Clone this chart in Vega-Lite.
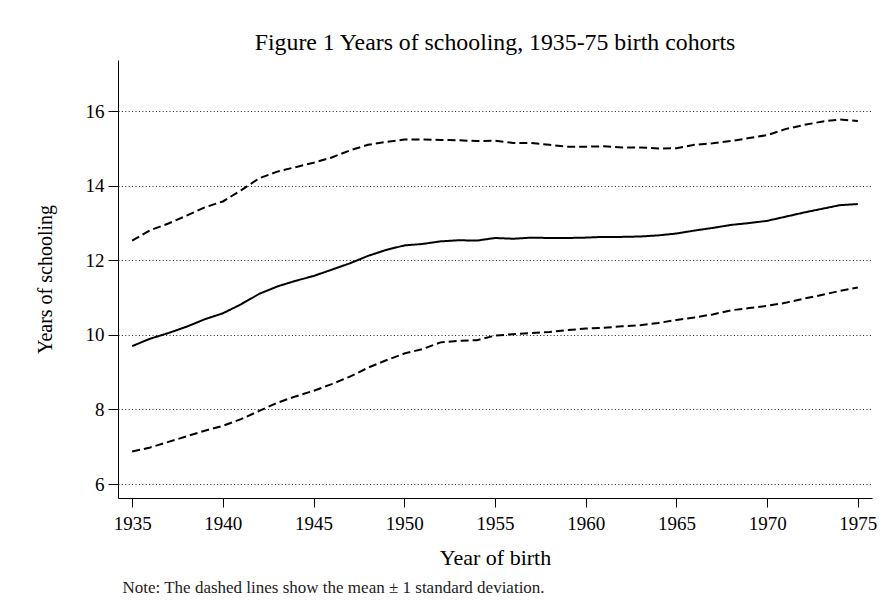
{
 "$schema": "https://vega.github.io/schema/vega-lite/v6.json",
 "width": 754, "height": 438,
 "autosize": {"type": "none"},
 "padding": {"left": 118, "top": 60, "right": 11, "bottom": 118},
 "background": "white",
 "config": {"font": "Liberation Serif", "view": {"stroke": null}},
 "title": {"text": "Figure 1 Years of schooling, 1935-75 birth cohorts", "fontSize": 23.8, "fontWeight": "normal", "color": "#000", "anchor": "middle", "offset": 5, "font": "Liberation Serif"},
 "datasets": {
  "d": [
   {"year":1935,"s":"mean","v":9.70},{"year":1936,"s":"mean","v":9.90},{"year":1937,"s":"mean","v":10.05},{"year":1938,"s":"mean","v":10.22},{"year":1939,"s":"mean","v":10.42},{"year":1940,"s":"mean","v":10.58},{"year":1941,"s":"mean","v":10.82},{"year":1942,"s":"mean","v":11.10},{"year":1943,"s":"mean","v":11.30},{"year":1944,"s":"mean","v":11.45},{"year":1945,"s":"mean","v":11.58},{"year":1946,"s":"mean","v":11.75},{"year":1947,"s":"mean","v":11.92},{"year":1948,"s":"mean","v":12.12},{"year":1949,"s":"mean","v":12.28},{"year":1950,"s":"mean","v":12.40},{"year":1951,"s":"mean","v":12.44},{"year":1952,"s":"mean","v":12.51},{"year":1953,"s":"mean","v":12.54},{"year":1954,"s":"mean","v":12.53},{"year":1955,"s":"mean","v":12.60},{"year":1956,"s":"mean","v":12.58},{"year":1957,"s":"mean","v":12.61},{"year":1958,"s":"mean","v":12.60},{"year":1959,"s":"mean","v":12.60},{"year":1960,"s":"mean","v":12.61},{"year":1961,"s":"mean","v":12.63},{"year":1962,"s":"mean","v":12.63},{"year":1963,"s":"mean","v":12.64},{"year":1964,"s":"mean","v":12.67},{"year":1965,"s":"mean","v":12.72},{"year":1966,"s":"mean","v":12.80},{"year":1967,"s":"mean","v":12.87},{"year":1968,"s":"mean","v":12.95},{"year":1969,"s":"mean","v":13.00},{"year":1970,"s":"mean","v":13.06},{"year":1971,"s":"mean","v":13.17},{"year":1972,"s":"mean","v":13.28},{"year":1973,"s":"mean","v":13.38},{"year":1974,"s":"mean","v":13.48},{"year":1975,"s":"mean","v":13.51},
   {"year":1935,"s":"upper","v":12.53},{"year":1936,"s":"upper","v":12.81},{"year":1937,"s":"upper","v":12.99},{"year":1938,"s":"upper","v":13.20},{"year":1939,"s":"upper","v":13.42},{"year":1940,"s":"upper","v":13.58},{"year":1941,"s":"upper","v":13.88},{"year":1942,"s":"upper","v":14.20},{"year":1943,"s":"upper","v":14.38},{"year":1944,"s":"upper","v":14.50},{"year":1945,"s":"upper","v":14.62},{"year":1946,"s":"upper","v":14.76},{"year":1947,"s":"upper","v":14.95},{"year":1948,"s":"upper","v":15.10},{"year":1949,"s":"upper","v":15.18},{"year":1950,"s":"upper","v":15.24},{"year":1951,"s":"upper","v":15.24},{"year":1952,"s":"upper","v":15.23},{"year":1953,"s":"upper","v":15.22},{"year":1954,"s":"upper","v":15.20},{"year":1955,"s":"upper","v":15.21},{"year":1956,"s":"upper","v":15.15},{"year":1957,"s":"upper","v":15.15},{"year":1958,"s":"upper","v":15.10},{"year":1959,"s":"upper","v":15.05},{"year":1960,"s":"upper","v":15.05},{"year":1961,"s":"upper","v":15.06},{"year":1962,"s":"upper","v":15.03},{"year":1963,"s":"upper","v":15.03},{"year":1964,"s":"upper","v":15.00},{"year":1965,"s":"upper","v":15.01},{"year":1966,"s":"upper","v":15.10},{"year":1967,"s":"upper","v":15.14},{"year":1968,"s":"upper","v":15.20},{"year":1969,"s":"upper","v":15.28},{"year":1970,"s":"upper","v":15.36},{"year":1971,"s":"upper","v":15.52},{"year":1972,"s":"upper","v":15.63},{"year":1973,"s":"upper","v":15.72},{"year":1974,"s":"upper","v":15.78},{"year":1975,"s":"upper","v":15.74},
   {"year":1935,"s":"lower","v":6.87},{"year":1936,"s":"lower","v":6.98},{"year":1937,"s":"lower","v":7.13},{"year":1938,"s":"lower","v":7.28},{"year":1939,"s":"lower","v":7.43},{"year":1940,"s":"lower","v":7.56},{"year":1941,"s":"lower","v":7.74},{"year":1942,"s":"lower","v":7.96},{"year":1943,"s":"lower","v":8.18},{"year":1944,"s":"lower","v":8.35},{"year":1945,"s":"lower","v":8.50},{"year":1946,"s":"lower","v":8.68},{"year":1947,"s":"lower","v":8.88},{"year":1948,"s":"lower","v":9.12},{"year":1949,"s":"lower","v":9.32},{"year":1950,"s":"lower","v":9.50},{"year":1951,"s":"lower","v":9.62},{"year":1952,"s":"lower","v":9.80},{"year":1953,"s":"lower","v":9.84},{"year":1954,"s":"lower","v":9.86},{"year":1955,"s":"lower","v":9.98},{"year":1956,"s":"lower","v":10.02},{"year":1957,"s":"lower","v":10.05},{"year":1958,"s":"lower","v":10.08},{"year":1959,"s":"lower","v":10.13},{"year":1960,"s":"lower","v":10.17},{"year":1961,"s":"lower","v":10.19},{"year":1962,"s":"lower","v":10.23},{"year":1963,"s":"lower","v":10.26},{"year":1964,"s":"lower","v":10.32},{"year":1965,"s":"lower","v":10.40},{"year":1966,"s":"lower","v":10.47},{"year":1967,"s":"lower","v":10.55},{"year":1968,"s":"lower","v":10.66},{"year":1969,"s":"lower","v":10.72},{"year":1970,"s":"lower","v":10.78},{"year":1971,"s":"lower","v":10.86},{"year":1972,"s":"lower","v":10.97},{"year":1973,"s":"lower","v":11.07},{"year":1974,"s":"lower","v":11.18},{"year":1975,"s":"lower","v":11.27}
  ]
 },
 "data": {"name": "d"},
 "layer": [
  {
   "mark": {"type": "line", "strokeWidth": 2, "color": "black"},
   "encoding": {
    "x": {"field": "year", "type": "quantitative",
     "scale": {"domain": [1934.22, 1975.78], "nice": false, "zero": false},
     "axis": {"values": [1935,1940,1945,1950,1955,1960,1965,1970,1975], "format": "d", "title": "Year of birth",
      "domainColor": "black", "tickColor": "black", "tickSize": 9, "labelFontSize": 19, "labelPadding": 7, "labelColor": "black",
      "titleFontSize": 22, "titleFontWeight": "normal", "titleColor": "black", "titlePadding": 14, "grid": false, "labelFlush": false}},
    "y": {"field": "v", "type": "quantitative",
     "scale": {"domain": [5.625, 17.375], "nice": false, "zero": false},
     "axis": {"values": [6,8,10,12,14,16], "title": "Years of schooling", "grid": true, "gridDash": [1, 2.4], "gridColor": "#222", "gridWidth": 1,
      "domainColor": "black", "tickColor": "black", "tickSize": 10, "labelFontSize": 19, "labelPadding": 4, "labelColor": "black",
      "titleFontSize": 20, "titleFontWeight": "normal", "titleColor": "black", "titlePadding": 30}},
    "detail": {"field": "s"},
    "strokeDash": {"field": "s", "type": "nominal", "scale": {"domain": ["mean", "upper", "lower"], "range": [[1, 0], [8, 4], [8, 4]]}, "legend": null}
   }
  },
  {
   "mark": {"type": "line", "opacity": 0},
   "encoding": {
    "x": {"field": "year", "type": "quantitative",
     "scale": {"domain": [1934.22, 1975.78], "nice": false, "zero": false},
     "axis": {"orient": "bottom", "domain": false, "ticks": false, "labels": false, "grid": false,
      "title": "Note: The dashed lines show the mean ± 1 standard deviation.", "titleFontSize": 17, "titleFontWeight": "normal", "titleColor": "#222",
      "titleAnchor": "start", "titleAlign": "left", "titleX": 4, "titleY": 94, "titleBaseline": "alphabetic"}},
    "y": {"field": "v", "type": "quantitative"},
    "detail": {"field": "s"}
   }
  }
 ],
 "resolve": {"scale": {"x": "independent"}, "axis": {"x": "independent"}}
}
